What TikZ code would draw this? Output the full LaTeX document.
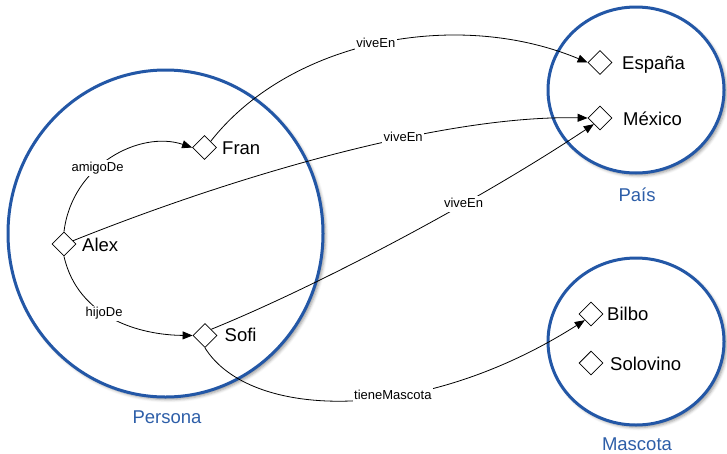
\documentclass[tikz,border=0pt]{standalone}
\usepackage{fontspec}
\setmainfont{Liberation Sans}
\usetikzlibrary{shapes.geometric,arrows.meta,shadows.blur}
\definecolor{catblue}{HTML}{2357A6}
\definecolor{cattext}{HTML}{2D5EA8}
\begin{document}
\begin{tikzpicture}[x=1pt,y=-1pt,
  cat/.style={ellipse, draw=catblue, line width=3pt, fill=white, inner sep=0pt,
    blur shadow={shadow xshift=2.5pt, shadow yshift=-2.5pt, shadow blur radius=3pt, shadow opacity=40}},
  inst/.style={diamond, draw=black, line width=0.8pt, fill=white, minimum width=24pt, minimum height=24pt, inner sep=0pt, aspect=1},
  itext/.style={font=\fontsize{18.5}{20}\selectfont, inner sep=0pt, anchor=base west},
  ctext/.style={font=\fontsize{18.5}{20}\selectfont, text=cattext, inner sep=0pt, anchor=base},
  rel/.style={line width=0.8pt, -{Triangle[length=10pt,width=8pt]}},
  rlabel/.style={font=\fontsize{13}{14}\selectfont, fill=white, inner sep=1.5pt, text height=9.5pt, text depth=3pt}
]
\useasboundingbox (0,0) rectangle (727,453);

% categories
\node[cat, minimum width=315pt, minimum height=327pt] (persona) at (165.5,233.5) {};
\node[cat, minimum width=176pt, minimum height=166pt] (pais) at (636,90) {};
\node[cat, minimum width=176pt, minimum height=167pt] (mascota) at (636,341.5) {};

\node[ctext] (tpersona) at (167,423.3) {Persona};
\node[ctext] (tpais) at (637,201.7) {País};
\node[ctext] (tmascota) at (637,450) {Mascota};

% instances
\node[inst] (fran) at (204.5,147.5) {};
\node[inst] (alex) at (64,244) {};
\node[inst] (sofi) at (205,335.5) {};
\node[inst] (espana) at (600,62.5) {};
\node[inst] (mexico) at (600,118) {};
\node[inst] (bilbo) at (591,314) {};
\node[inst] (solovino) at (591,363) {};

\node[itext] (tfran) at (222,154) {Fran};
\node[itext] (talex) at (82,251) {Alex};
\node[itext] (tsofi) at (224.5,341.5) {Sofi};
\node[itext] (tespana) at (622,69) {España};
\node[itext] (tmexico) at (623,125) {México};
\node[itext] (tbilbo) at (607,320.7) {Bilbo};
\node[itext] (tsolovino) at (610,370) {Solovino};

% relations
\draw[rel] (alex.north) .. controls (72,165) and (140,130) .. (fran.west)
  node[rlabel, pos=0.4] (lamigo) {amigoDe};
\draw[rel] (alex.south) .. controls (78,318) and (140,335) .. (sofi.west)
  node[rlabel, pos=0.43] (lhijo) {hijoDe};
\draw[rel] (fran.north east) .. controls (290,40) and (457,8) .. (espana.west)
  node[rlabel, pos=0.49] (lvive1) {viveEn};
\draw[rel] (alex.20) .. controls (250,170) and (450,115) .. (mexico.west)
  node[rlabel, pos=0.61] (lvive2) {viveEn};
\draw[rel] (sofi.north east) .. controls (320,285) and (480,200) .. (mexico.south west)
  node[rlabel, pos=0.655] (lvive3) {viveEn};
\draw[rel] (sofi.south) .. controls (250,420) and (420,425) .. (bilbo.south west)
  node[rlabel, pos=0.6] (ltiene) {tieneMascota};
\end{tikzpicture}
\end{document}
